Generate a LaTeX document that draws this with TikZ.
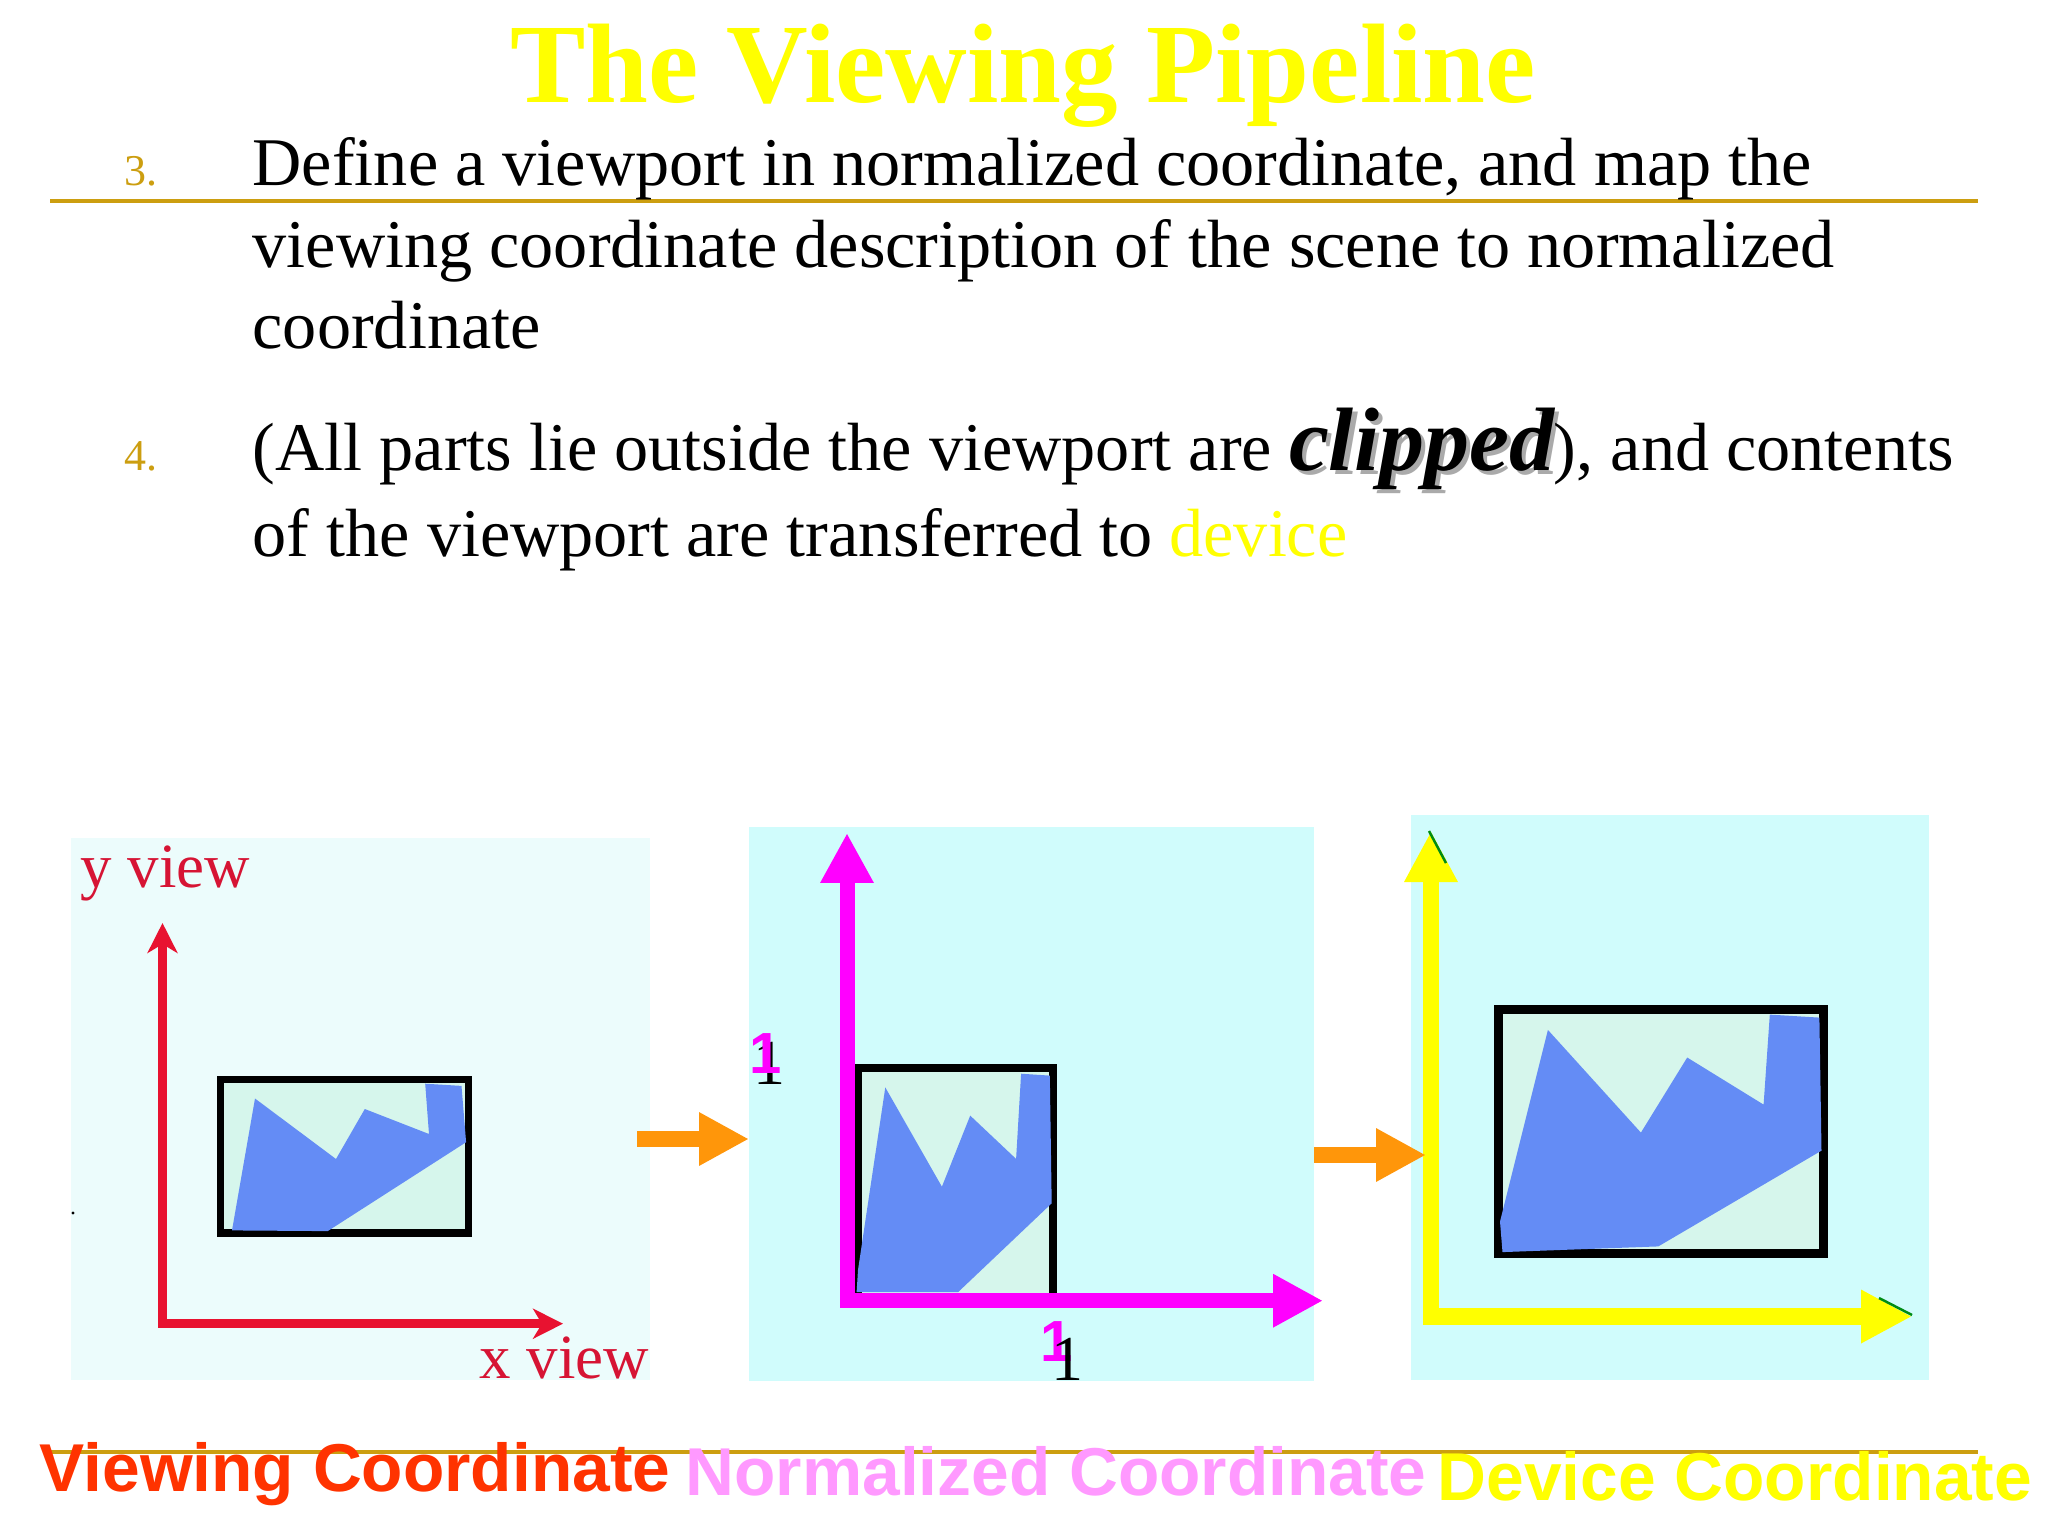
\documentclass[tikz,border=0pt]{standalone}
\usepackage{fontspec}
\setmainfont{Liberation Serif}
\newfontfamily\sansb{Liberation Sans}
\usetikzlibrary{arrows.meta}
\definecolor{titleyellow}{RGB}{255,255,0}
\definecolor{gold}{RGB}{204,158,16}
\definecolor{paleA}{RGB}{236,252,252}
\definecolor{paleB}{RGB}{208,252,252}
\definecolor{mint}{RGB}{214,246,236}
\definecolor{shapeblue}{RGB}{100,140,245}
\definecolor{axisred}{RGB}{232,18,48}
\definecolor{labelred}{RGB}{214,20,52}
\definecolor{arroworange}{RGB}{255,150,10}
\definecolor{mag}{RGB}{255,0,255}
\definecolor{vcred}{RGB}{255,51,0}
\definecolor{pinklab}{RGB}{255,153,255}
\definecolor{tipgreen}{RGB}{0,140,20}
\definecolor{shadowgray}{RGB}{170,170,170}
\newcommand{\shadowword}[1]{\makebox[0pt][l]{\hspace{1.2pt}\raisebox{-1.2pt}{\textcolor{shadowgray}{#1}}}#1}
\begin{document}
\begin{tikzpicture}[x=0.01cm,y=-0.01cm,
  txt/.style={inner sep=0pt, anchor=base west},
  bodytext/.style={txt, font=\fontsize{19.4pt}{23pt}\selectfont},
  numtext/.style={txt, text=gold, font=\fontsize{12.5pt}{15pt}\selectfont},
  goldline/.style={draw=gold, line width=1.15pt},
  panelbox/.style={inner sep=0pt, outer sep=0pt, anchor=north west},
  viewrect/.style={draw=black, line width=2.2pt, fill=mint},
  blueshape/.style={fill=shapeblue},
  redaxis/.style={draw=axisred, line width=2.4pt, line join=miter,
    {Stealth[length=8.5pt,width=8.5pt,inset=2.5pt]}-{Stealth[length=8.5pt,width=8.5pt,inset=2.5pt]}},
  magaxis/.style={draw=mag, line width=4.27pt, line join=miter,
    {Triangle[length=14.2pt,width=14.2pt]}-{Triangle[length=14.2pt,width=14.2pt]}},
  yelaxis/.style={draw=titleyellow, line width=4.6pt, line join=miter,
    {Triangle[length=14.5pt,width=14.2pt]}-{Triangle[length=14.5pt,width=14.2pt]}},
  orangearrow/.style={draw=arroworange, line width=4.75pt, -{Triangle[length=14.2pt,width=14.2pt]}},
  axislabel/.style={txt, text=labelred, font=\fontsize{17.9pt}{21pt}\selectfont},
  botlabel/.style={txt, font=\sansb\bfseries\fontsize{19.25pt}{23pt}\selectfont},
  magone/.style={inner sep=0pt, anchor=base, text=mag, font=\sansb\bfseries\fontsize{16.5pt}{19pt}\selectfont},
  blkone/.style={inner sep=0pt, anchor=base, text=black, font=\fontsize{18.2pt}{21pt}\selectfont}
]
\useasboundingbox (0,0) rectangle (2048,1536);
\fill[white] (0,0) rectangle (2048,1536);

% title and rules
\node (title) [inner sep=0pt, anchor=base, text=titleyellow, font=\bfseries\fontsize{32.15pt}{38pt}\selectfont] at (1023,102) {The Viewing Pipeline};
\coordinate (tl1) at (50,201); \coordinate (tl2) at (1978,201);
\draw[goldline] (tl1) -- (tl2);

% item 3
\node (n3) [numtext] at (124,185) {3.};
\node (l31) [bodytext] at (252,185) {Define a viewport in normalized coordinate, and map the};
\node (l32) [bodytext] at (252,267) {viewing coordinate description of the scene to normalized};
\node (l33) [bodytext] at (252,348) {coordinate};

% item 4
\node (n4) [numtext] at (124,470) {4.};
\node (l41) [bodytext] at (252,470) {(All parts lie outside the viewport are {\fontsize{25.6pt}{30pt}\selectfont\bfseries\itshape\shadowword{clipped}}), and contents};
\node (l42) [bodytext] at (252,556) {of the viewport are transferred to \textcolor{titleyellow}{device}};

% panels
\node (p1) [panelbox, fill=paleA, minimum width=5.79cm, minimum height=5.42cm] at (71,838) {};
\node (p2) [panelbox, fill=paleB, minimum width=5.65cm, minimum height=5.54cm] at (749,827) {};
\node (p3) [panelbox, fill=paleB, minimum width=5.18cm, minimum height=5.65cm] at (1411,815) {};

% ---- panel 1: viewing coordinate
\draw[viewrect] (220.5,1079.4) rectangle (468.5,1233);
\fill[blueshape] (232,1230.4) -- (255,1098.5) -- (336,1159) -- (364.8,1109) -- (429,1134) -- (425.2,1083.7) -- (461.5,1085.9) -- (466.1,1142.2) -- (327.7,1231.1) -- cycle;
\coordinate (ry) at (162.5,923);
\coordinate (ro) at (162.5,1323.7);
\coordinate (rx) at (563,1323.7);
\draw[redaxis] (ry) -- (ro) -- (rx);
\node (yview) [axislabel] at (80,887) {y view};
\node (xview) [axislabel] at (479,1378) {x view};
\fill[black] (73,1213) circle (1.6);

% ---- panel 2: normalized coordinate
\fill[mint] (858,1068) rectangle (1052.6,1293);
\draw[black, line width=2.3pt, line join=miter] (858,1293) -- (858,1067.7) -- (1052.6,1067.7) -- (1052.6,1293);
\fill[blueshape] (856.6,1292.2) -- (858,1270) -- (885.3,1087.4) -- (941.9,1186.7) -- (970.2,1115.6) -- (1016.1,1158.9) -- (1021.1,1073.7) -- (1049.8,1075.6) -- (1051.7,1203.3) -- (958,1292.2) -- cycle;
\coordinate (my) at (847,833);
\coordinate (mo) at (847,1300.7);
\coordinate (mx) at (1323,1300.7);
\draw[magaxis] (my) -- (mo) -- (mx);
\node (oneyb) [blkone] at (769,1084) {1};
\node (oneym) [magone] at (766,1073) {1};
\node (onexm) [magone] at (1056.5,1361.7) {1};
\node (onexb) [blkone] at (1067.5,1380.7) {1};

% ---- panel 3: device coordinate
\draw[viewrect, line width=2.5pt] (1498.7,1009.5) rectangle (1823.2,1253.3);
\fill[blueshape] (1502.5,1252.1) -- (1500,1221.5) -- (1547.9,1029.9) -- (1640.9,1132.6) -- (1687.2,1057.5) -- (1763.6,1104.6) -- (1769.8,1014.6) -- (1819.4,1017.6) -- (1821.5,1150.6) -- (1658.3,1246.4) -- cycle;
\coordinate (yy) at (1431,831);
\coordinate (yo) at (1431,1316.5);
\coordinate (yx) at (1912,1316.5);
\draw[yelaxis] (yy) -- (yo) -- (yx);
\draw[tipgreen, line width=0.7pt] (1429,831) -- (1446,863);
\draw[tipgreen, line width=0.7pt] (1879,1298) -- (1912,1315);

% ---- orange arrows between panels
\coordinate (a1s) at (637,1139);
\coordinate (a1e) at (749,1139);
\draw[orangearrow] (a1s) -- (a1e);
\coordinate (a2s) at (1314,1155);
\coordinate (a2e) at (1426,1155);
\draw[orangearrow] (a2s) -- (a2e);

% bottom rule and labels
\coordinate (bl1) at (50,1452); \coordinate (bl2) at (1978,1452);
\draw[goldline] (bl1) -- (bl2);
\node (lab1) [botlabel, text=vcred] at (39,1491) {Viewing Coordinate};
\node (lab2) [botlabel, text=pinklab] at (685,1495) {Normalized Coordinate};
\node (lab3) [botlabel, text=titleyellow] at (1437,1500) {Device Coordinate};
\end{tikzpicture}
\end{document}
